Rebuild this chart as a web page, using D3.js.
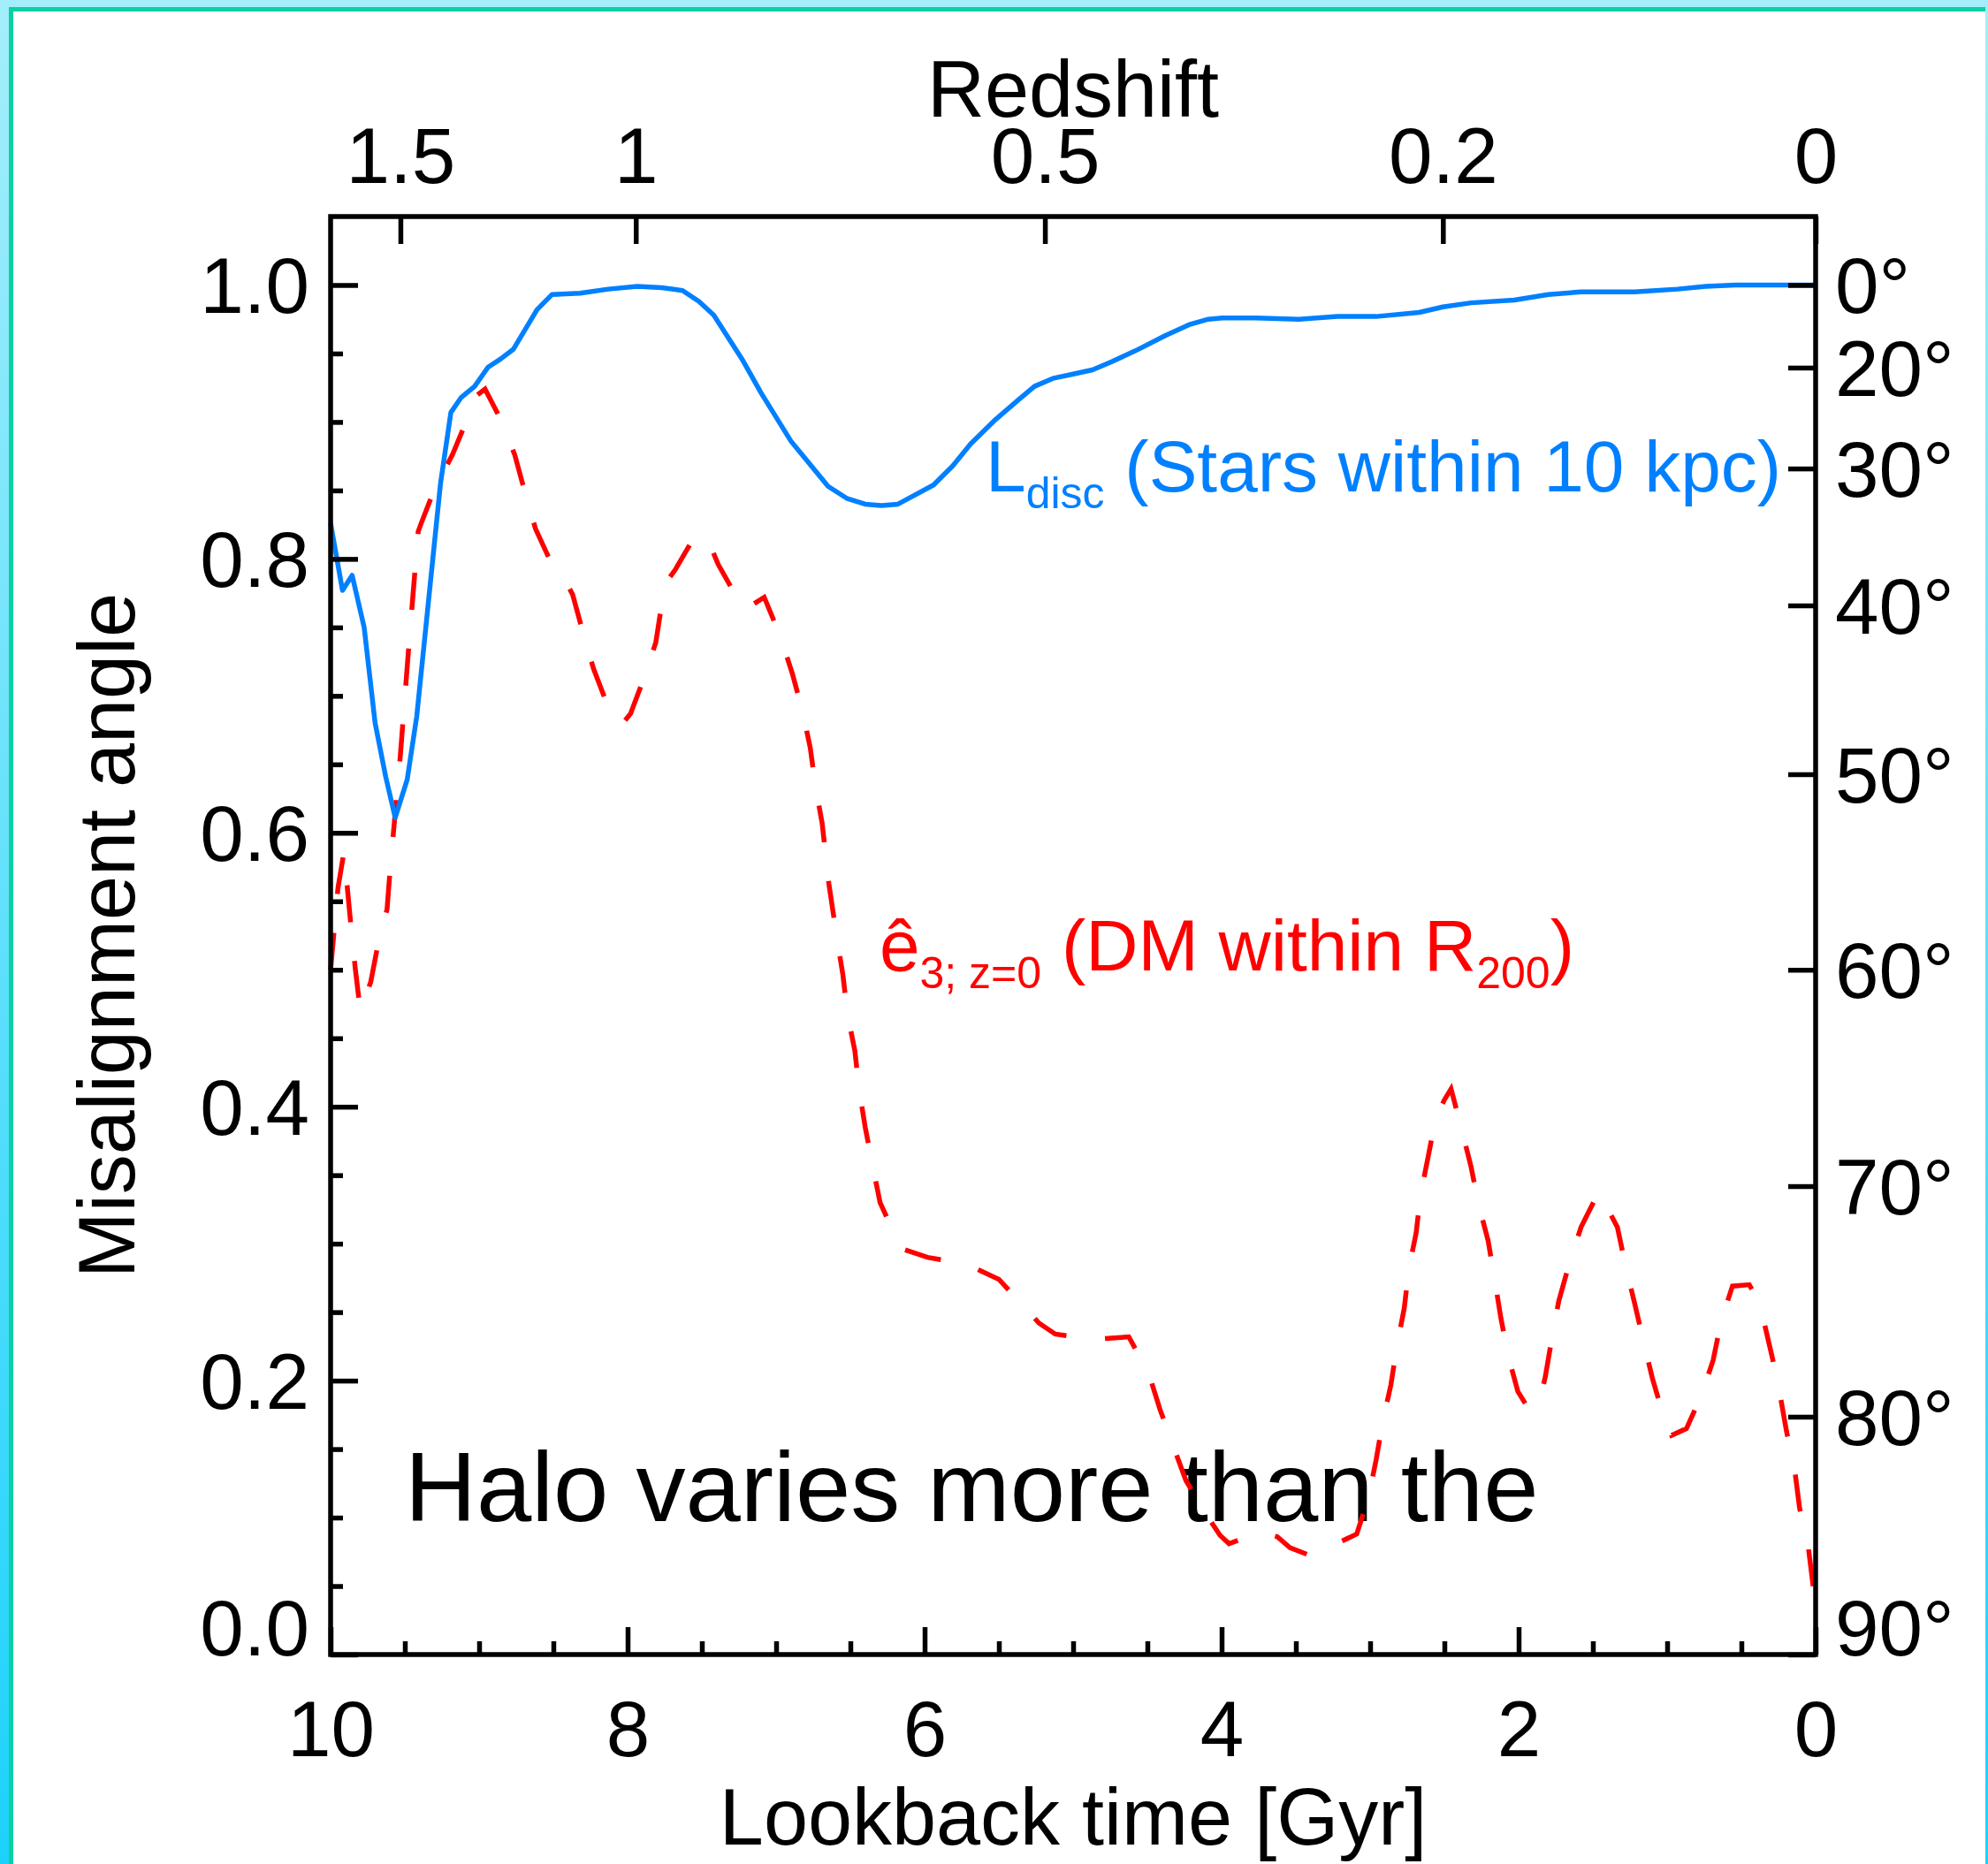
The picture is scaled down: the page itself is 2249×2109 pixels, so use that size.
<!DOCTYPE html>
<html>
<head>
<meta charset="utf-8">
<script src="https://cdn.jsdelivr.net/npm/d3@7/dist/d3.min.js"></script>
<style>
  html, body { margin: 0; padding: 0; background: #ffffff; }
  svg { display: block; }
  text { white-space: pre; }
</style>
</head>
<body>
<svg id="chart" width="2249" height="2109"></svg>
<script>
// Stellar disc spin axis (stars within 10 kpc): lookback time [Gyr] and cos(misalignment)
const discTime = [10.0, 9.92, 9.855, 9.774, 9.70, 9.629, 9.565, 9.484, 9.42, 9.34, 9.26, 9.19, 9.12, 9.03,
  8.94, 8.855, 8.77, 8.61, 8.51, 8.32, 8.13, 7.935, 7.77, 7.63, 7.52, 7.42, 7.23, 7.10, 6.90, 6.65,
  6.52, 6.40, 6.29, 6.18, 5.94, 5.81, 5.69, 5.52, 5.37, 5.26, 5.13, 5.00, 4.87, 4.74, 4.58, 4.38,
  4.22, 4.09, 3.995, 3.77, 3.48, 3.22, 2.96, 2.67, 2.51, 2.32, 2.03, 1.80, 1.58, 1.22, 0.93, 0.74,
  0.54, 0.0];
const discCos = [0.826, 0.777, 0.788, 0.750, 0.680, 0.641, 0.611, 0.639, 0.685, 0.770, 0.855, 0.907, 0.918, 0.926,
  0.940, 0.946, 0.953, 0.982, 0.993, 0.994, 0.997, 0.999, 0.998, 0.996, 0.988, 0.978, 0.946, 0.921, 0.886, 0.853,
  0.844, 0.840, 0.839, 0.840, 0.854, 0.868, 0.884, 0.902, 0.916, 0.926, 0.932, 0.935, 0.938, 0.944, 0.952, 0.963,
  0.971, 0.975, 0.976, 0.976, 0.975, 0.977, 0.977, 0.980, 0.984, 0.987, 0.989, 0.993, 0.995, 0.995, 0.997, 0.999,
  1.000, 1.000];

// Halo minor axis relative to its z=0 orientation (DM within R200)
const haloTime = [10.0, 9.95, 9.91, 9.87, 9.835, 9.80, 9.73, 9.68, 9.62, 9.60, 9.53, 9.47, 9.41, 9.39, 9.30,
  9.18, 9.08, 9.02, 8.96, 8.85, 8.76, 8.69, 8.62, 8.51, 8.42, 8.37, 8.30, 8.23, 8.135, 8.04, 7.98,
  7.89, 7.81, 7.77, 7.74, 7.68, 7.54, 7.44, 7.39, 7.26, 7.21, 7.08, 6.97, 6.89, 6.82, 6.77, 6.735,
  6.69, 6.645, 6.59, 6.55, 6.52, 6.47, 6.44, 6.40, 6.35, 6.30, 6.19, 6.145, 5.98, 5.72, 5.50, 5.32,
  5.23, 5.12, 4.87, 4.625, 4.49, 4.415, 4.325, 4.24, 4.09, 4.01, 3.95, 3.75, 3.625, 3.54, 3.42, 3.30,
  3.205, 3.09, 3.01, 2.96, 2.915, 2.86, 2.82, 2.77, 2.74, 2.69, 2.66, 2.61, 2.56, 2.50, 2.455, 2.38,
  2.32, 2.27, 2.205, 2.16, 2.12, 2.07, 2.005, 1.925, 1.835, 1.82, 1.776, 1.73, 1.66, 1.58, 1.46,
  1.335, 1.28, 1.22, 1.16, 1.10, 1.03, 0.97, 0.87, 0.77, 0.69, 0.635, 0.56, 0.447, 0.415, 0.35,
  0.29, 0.24, 0.196, 0.14, 0.108, 0.05, 0.0];
const haloCos = [0.500, 0.560, 0.586, 0.540, 0.502, 0.470, 0.491, 0.519, 0.544, 0.572, 0.657, 0.741, 0.820, 0.826, 0.851,
  0.876, 0.902, 0.919, 0.924, 0.901, 0.876, 0.848, 0.822, 0.796, 0.784, 0.774, 0.746, 0.720, 0.693, 0.679, 0.687,
  0.713, 0.739, 0.767, 0.783, 0.792, 0.818, 0.809, 0.796, 0.771, 0.763, 0.772, 0.743, 0.716, 0.688, 0.662, 0.634,
  0.607, 0.563, 0.523, 0.496, 0.468, 0.441, 0.412, 0.385, 0.357, 0.330, 0.304, 0.296, 0.290, 0.285, 0.274, 0.253,
  0.242, 0.234, 0.230, 0.232, 0.205, 0.179, 0.152, 0.127, 0.100, 0.087, 0.081, 0.089, 0.086, 0.078, 0.073, 0.075,
  0.082, 0.088, 0.115, 0.142, 0.170, 0.197, 0.225, 0.253, 0.281, 0.308, 0.336, 0.363, 0.391, 0.405, 0.413, 0.382,
  0.356, 0.329, 0.302, 0.273, 0.246, 0.218, 0.192, 0.178, 0.196, 0.203, 0.231, 0.258, 0.285, 0.312, 0.338,
  0.312, 0.284, 0.257, 0.229, 0.202, 0.176, 0.160, 0.165, 0.189, 0.215, 0.244, 0.269, 0.270, 0.264, 0.244,
  0.216, 0.190, 0.163, 0.134, 0.107, 0.079, 0.035];

// Axis ticks and labels
const timeMajor = [10, 8, 6, 4, 2, 0];
const timeMinor = [9.5, 9, 8.5, 7.5, 7, 6.5, 5.5, 5, 4.5, 3.5, 3, 2.5, 1.5, 1, 0.5];
const cosMajor = [0, 0.2, 0.4, 0.6, 0.8, 1.0];
const cosMinor = [0.05, 0.1, 0.15, 0.25, 0.3, 0.35, 0.45, 0.5, 0.55, 0.65, 0.7, 0.75, 0.85, 0.9, 0.95];
const angleTicks = [0, 20, 30, 40, 50, 60, 70, 80, 90];
const redshiftLabels = ["1.5", "1", "0.5", "0.2", "0"];
const redshiftLookback = [9.53, 7.945, 5.19, 2.51, 0];

const FONT = "'Liberation Sans', Arial, Helvetica, sans-serif";
const BLUE = "#0080ff";
const RED = "#ff0000";

const svg = d3.select("#chart");
const W = 2249, H = 2109;
const plot = { left: 374, right: 2054, top: 245, bottom: 1872 };

// Slide frame: light cyan bands with a green rule on the top and left edges
const defs = svg.append("defs");
const grad = defs.append("linearGradient").attr("id", "edgeGrad")
  .attr("x1", 0).attr("y1", 0).attr("x2", 0).attr("y2", 1);
grad.append("stop").attr("offset", "0%").attr("stop-color", "#a4eefb");
grad.append("stop").attr("offset", "100%").attr("stop-color", "#1cd2fc");

svg.append("rect").attr("x", 0).attr("y", 0).attr("width", W).attr("height", H).attr("fill", "#ffffff");
svg.append("rect").attr("x", 0).attr("y", 0).attr("width", W).attr("height", 8).attr("fill", "#a4eefb");
svg.append("rect").attr("x", 0).attr("y", 0).attr("width", 10).attr("height", H).attr("fill", "url(#edgeGrad)");
svg.append("rect").attr("x", W - 3).attr("y", 0).attr("width", 3).attr("height", H).attr("fill", "url(#edgeGrad)");
svg.append("rect").attr("x", 10).attr("y", 8).attr("width", W - 13).attr("height", 5).attr("fill", "#0bd0a2");
svg.append("rect").attr("x", 10).attr("y", 8).attr("width", 5).attr("height", H - 8).attr("fill", "#0bd0a2");

const x = d3.scaleLinear().domain([10, 0]).range([plot.left, plot.right]);
const y = d3.scaleLinear().domain([0, 1.05]).range([plot.bottom, plot.top]);

// Annotation inside the panel
svg.append("text")
  .attr("x", x(9.5)).attr("y", y(0.0975))
  .attr("font-family", FONT).attr("font-size", 112).attr("fill", "#000")
  .text("Halo varies more than the");

// Curves
const line = d3.line().x(d => x(d[0])).y(d => y(d[1]));
const discPts = discTime.map((t, i) => [t, discCos[i]]);
const haloPts = haloTime.map((t, i) => [t, haloCos[i]]);

svg.append("path").datum(haloPts)
  .attr("d", line).attr("fill", "none").attr("stroke", RED)
  .attr("stroke-width", 5.5).attr("stroke-dasharray", "42,44").attr("stroke-linejoin", "miter");

svg.append("path").datum(discPts)
  .attr("d", line).attr("fill", "none").attr("stroke", BLUE)
  .attr("stroke-width", 5.5).attr("stroke-linejoin", "round");

// Axes
function styleAxis(g) {
  g.select(".domain").remove();
  g.selectAll(".tick line").attr("stroke", "#000").attr("stroke-width", 5.5);
  g.selectAll(".tick text").attr("fill", "#000");
  g.attr("font-family", FONT).attr("font-size", 89);
}

svg.append("g").attr("transform", `translate(0,${plot.bottom})`)
  .call(d3.axisBottom(x).tickValues(timeMinor).tickSizeInner(-15).tickSizeOuter(0).tickFormat(""))
  .call(styleAxis);
svg.append("g").attr("transform", `translate(0,${plot.bottom})`)
  .call(d3.axisBottom(x).tickValues(timeMajor).tickSizeInner(-31).tickSizeOuter(0).tickPadding(52)
    .tickFormat(d3.format("d")))
  .call(styleAxis);

svg.append("g").attr("transform", `translate(${plot.left},0)`)
  .call(d3.axisLeft(y).tickValues(cosMinor).tickSizeInner(-14).tickSizeOuter(0).tickFormat(""))
  .call(styleAxis);
const leftAxis = svg.append("g").attr("transform", `translate(${plot.left},0)`)
  .call(d3.axisLeft(y).tickValues(cosMajor).tickSizeInner(-31).tickSizeOuter(0).tickPadding(24)
    .tickFormat(d3.format(".1f")))
  .call(styleAxis);
leftAxis.selectAll(".tick text").attr("dy", d => d === 0 ? "0em" : "0.35em");

const angleCos = angleTicks.map(a => Math.cos(a * Math.PI / 180));
const rightAxis = svg.append("g").attr("transform", `translate(${plot.right},0)`)
  .call(d3.axisRight(y).tickValues(angleCos).tickSizeInner(-31).tickSizeOuter(0).tickPadding(22)
    .tickFormat((d, i) => angleTicks[i] + "°"))
  .call(styleAxis);
rightAxis.selectAll(".tick text").attr("dy", (d, i) => angleTicks[i] === 90 ? "0em" : "0.35em");

svg.append("g").attr("transform", `translate(0,${plot.top})`)
  .call(d3.axisTop(x).tickValues(redshiftLookback).tickSizeInner(-31).tickSizeOuter(0).tickPadding(38)
    .tickFormat((d, i) => redshiftLabels[i]))
  .call(styleAxis);

// Frame
svg.append("rect")
  .attr("x", plot.left).attr("y", plot.top)
  .attr("width", plot.right - plot.left).attr("height", plot.bottom - plot.top)
  .attr("fill", "none").attr("stroke", "#000").attr("stroke-width", 5.5);

// Axis titles
const midX = (plot.left + plot.right) / 2;
svg.append("text").attr("x", midX).attr("y", 132).attr("text-anchor", "middle")
  .attr("font-family", FONT).attr("font-size", 90).text("Redshift");
svg.append("text").attr("x", midX).attr("y", 2087).attr("text-anchor", "middle")
  .attr("font-family", FONT).attr("font-size", 90).text("Lookback time [Gyr]");
svg.append("text")
  .attr("transform", `translate(152,${(plot.top + plot.bottom) / 2}) rotate(-90)`)
  .attr("text-anchor", "middle")
  .attr("font-family", FONT).attr("font-size", 90).text("Misalignment angle");

// Curve labels
const discLabel = svg.append("text")
  .attr("x", x(5.589)).attr("y", y(0.849))
  .attr("font-family", FONT).attr("font-size", 82).attr("fill", BLUE);
discLabel.append("tspan").text("L");
discLabel.append("tspan").attr("dy", 19).attr("font-size", 50).text("disc");
discLabel.append("tspan").attr("dy", -19).text(" (Stars within 10 kpc)");

const haloLabel = svg.append("text")
  .attr("x", x(6.304)).attr("y", y(0.4997))
  .attr("font-family", FONT).attr("font-size", 82).attr("fill", RED);
haloLabel.append("tspan").text("ê");
haloLabel.append("tspan").attr("dy", 20).attr("font-size", 50).text("3; z=0");
haloLabel.append("tspan").attr("dy", -20).text(" (DM within R");
haloLabel.append("tspan").attr("dy", 20).attr("font-size", 50).text("200");
haloLabel.append("tspan").attr("dy", -20).text(")");
</script>
</body>
</html>
